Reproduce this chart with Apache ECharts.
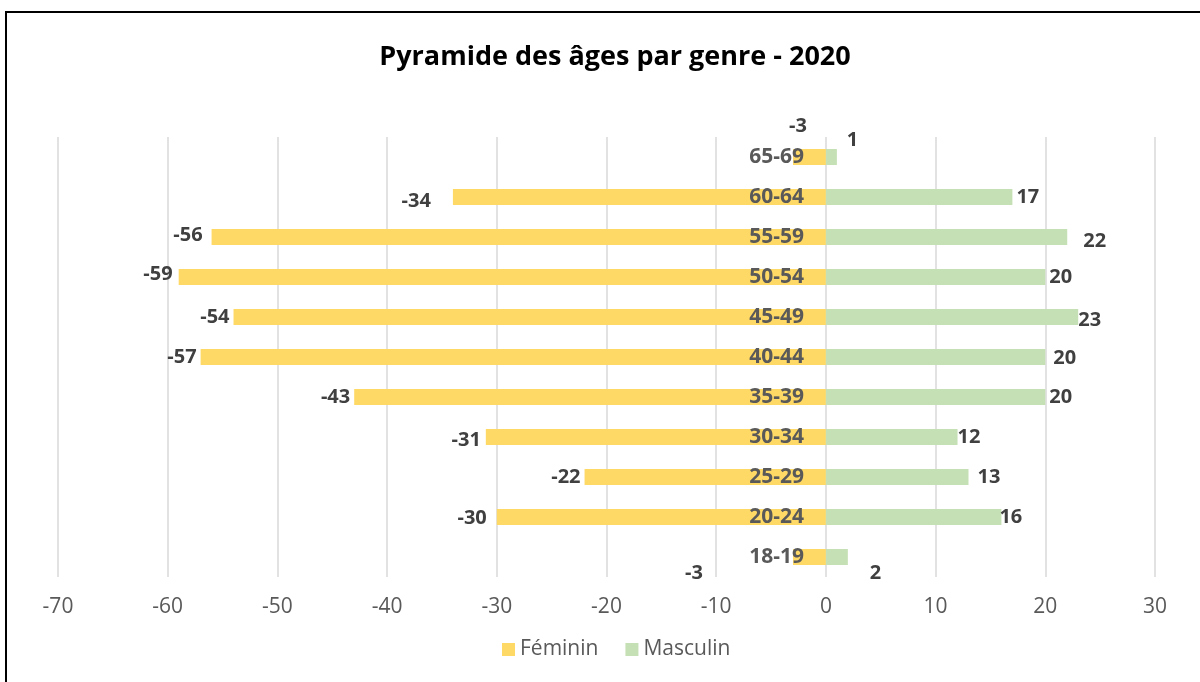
<!DOCTYPE html>
<html>
<head>
<meta charset="utf-8">
<script src="https://cdn.jsdelivr.net/npm/echarts@6/dist/echarts.min.js"></script>
<style>
html,body{margin:0;padding:0;background:#fff;}
#c{width:1200px;height:682px;}
</style>
</head>
<body>
<div id="c"></div>
<script>
const categories = ['18-19','20-24','25-29','30-34','35-39','40-44','45-49','50-54','55-59','60-64','65-69'];
const feminin = [-3,-30,-22,-31,-43,-57,-54,-59,-56,-34,-3];
const masculin = [2,16,13,12,20,20,23,20,22,17,1];
const xTicks = [-70,-60,-50,-40,-30,-20,-10,0,10,20,30];

const FONT = '"Open Sans", "Liberation Sans", sans-serif';
const labelBase = {show:true, fontFamily:FONT, fontWeight:'bold', fontSize:20, color:'#404040'};

// label nudges (Excel-like placement of data labels)
const femNudge = {'18-19':[-86,16], '20-24':[-6,1], '30-34':[-1,3], '55-59':[-5,-2], '50-54':[-2,-3], '60-64':[-18,4], '65-69':[18,-31]};
const mascNudge = {'18-19':[18,16], '20-24':[-6,0], '25-29':[5,0], '30-34':[-4,0], '40-44':[4,1], '45-49':[-4,3], '55-59':[12,4], '65-69':[6,-17]};

function build(vals, nudge){
  return vals.map((v,i)=>{
    const c = categories[i];
    const d = {value:v};
    if (Array.isArray(nudge[c])) d.label = {offset:nudge[c]};
    return d;
  });
}

const chart = echarts.init(document.getElementById('c'));
chart.setOption({
  animation:false,
  backgroundColor:'#fff',
  graphic:[{type:'rect', shape:{x:6,y:12,width:1400,height:900}, style:{fill:'none', stroke:'#000', lineWidth:2}, z:-1}],
  title:{text:'Pyramide des âges par genre - 2020', left:610, textAlign:'center', top:39,
    textStyle:{fontFamily:FONT, fontWeight:'bold', fontSize:27, color:'#000'}},
  legend:{bottom:17, left:497, itemWidth:13, itemHeight:13, itemGap:27, icon:'rect',
    textStyle:{fontFamily:FONT, fontSize:21, color:'#595959'},
    data:['Féminin','Masculin']},
  grid:{left:58, right:45, top:137, bottom:105},
  xAxis:{type:'value', min:-70, max:30, interval:10,
    axisLine:{show:false}, axisTick:{show:false},
    splitLine:{lineStyle:{color:'#D9D9D9', width:1.5}},
    axisLabel:{fontFamily:FONT, fontSize:21, color:'#595959', margin:20,
      formatter:v=> xTicks.includes(v) ? String(v) : ''}},
  yAxis:{type:'category', data:categories, position:'left', offset:-768, z:10,
    axisLine:{show:false}, axisTick:{show:false},
    axisLabel:{fontFamily:FONT, fontWeight:'bold', fontSize:21, color:'#595959', margin:22}},
  series:[
    {name:'Féminin', type:'bar', data:build(feminin, femNudge), barWidth:16, barGap:'-100%',
      itemStyle:{color:'#FFD966'}, label:Object.assign({position:'left', distance:4}, labelBase)},
    {name:'Masculin', type:'bar', data:build(masculin, mascNudge), barWidth:16,
      itemStyle:{color:'#C5E0B4'}, label:Object.assign({position:'right', distance:4}, labelBase)}
  ]
});
</script>
</body>
</html>
